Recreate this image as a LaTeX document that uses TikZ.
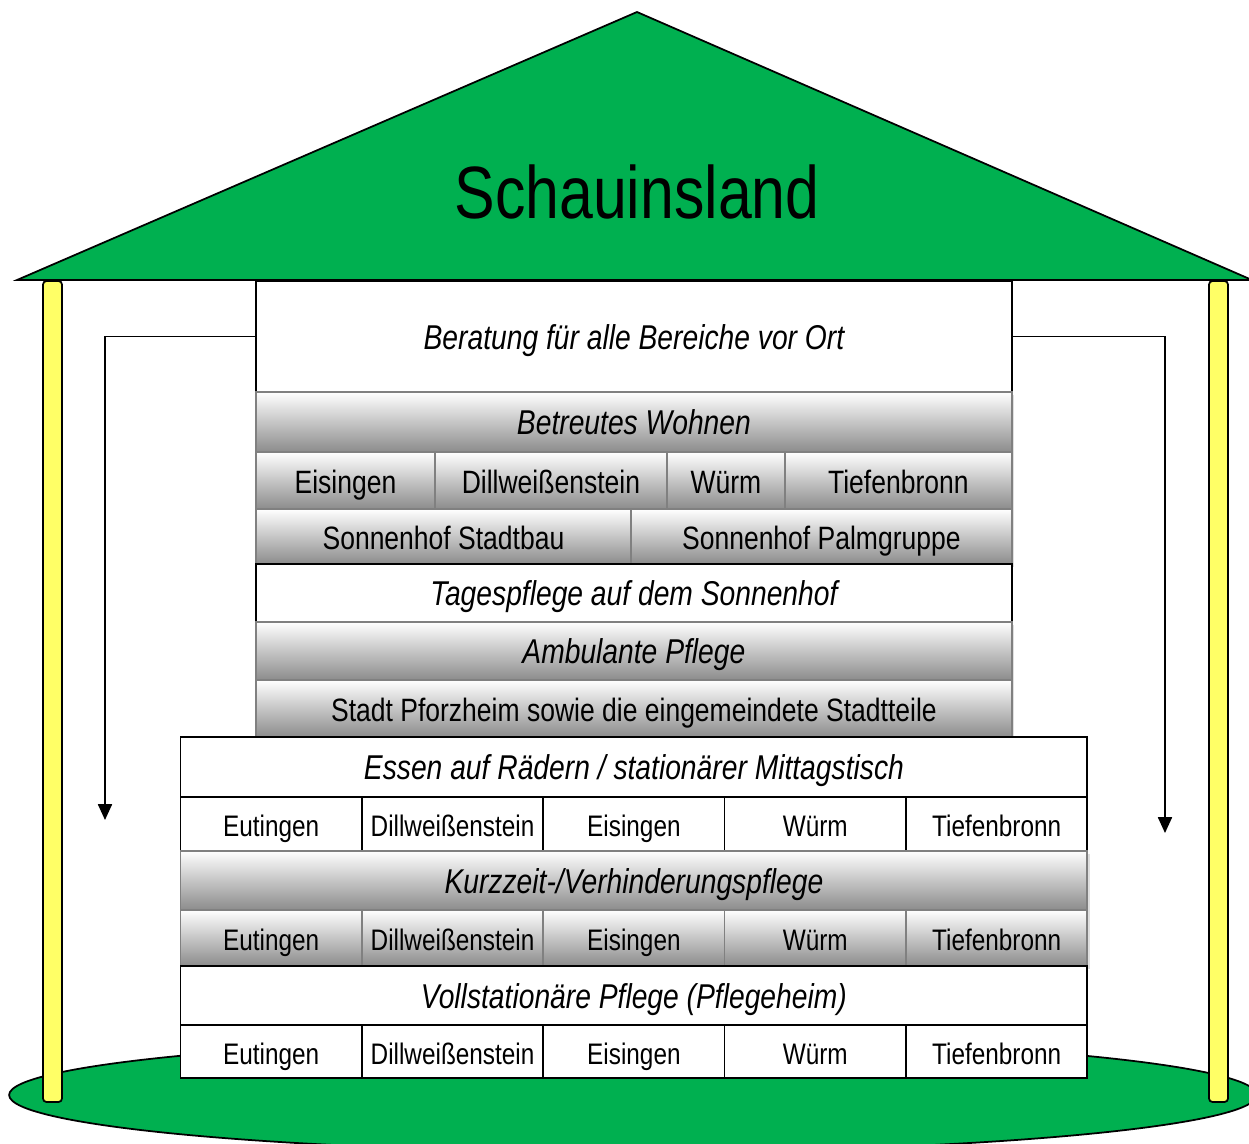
\documentclass[tikz,border=0pt]{standalone}
\usepackage{fontspec}
\setmainfont[FakeStretch=0.82]{Liberation Sans}
\usetikzlibrary{positioning,arrows.meta,shadows}
\definecolor{roofGreen}{RGB}{0,176,80}
\definecolor{pillarYellow}{RGB}{255,255,102}
\definecolor{barGray}{RGB}{140,140,140}

\tikzset{
  box/.style={draw=black, line width=1pt, fill=white, inner sep=0pt, outer sep=0pt,
    font=\fontsize{18.4}{22}\selectfont, text height=16pt, text depth=1.5pt},
  barbox/.style={box, draw=gray, top color=white, bottom color=barGray,
    drop shadow={shadow xshift=1.5pt, shadow yshift=-1.5pt, fill=gray!50}},
  headline/.style={font=\fontsize{19.6}{23}\selectfont\itshape},
  small/.style={font=\fontsize{16.9}{20}\selectfont},
  pillar/.style={draw=black, line width=1pt, fill=pillarYellow, rounded corners=2pt},
  flow/.style={line width=0.9pt, -{Triangle[length=9pt,width=8pt]}},
}

\begin{document}
\begin{tikzpicture}[x=0.02cm, y=-0.02cm]
  \useasboundingbox (0,0) rectangle (1249,1144);

  % ground, pillars and roof
  \draw[line width=1pt, fill=roofGreen] (633,1095) ellipse [x radius=12.48cm, y radius=1.14cm];
  \draw[pillar] (43,281) rectangle (62,1102);
  \draw[pillar] (1209,281) rectangle (1228,1102);
  \draw[line width=1pt, fill=roofGreen] (17,280) -- (637,12) -- (1252,280) -- cycle;
  \node[font=\fontsize{42.2}{50}\selectfont] (roofname) at (637,192) {Schauinsland};

  % upper column
  \node[box, headline, minimum width=15.12cm, minimum height=2.22cm, anchor=north west]
    (beratung) at (256,281) {Beratung für alle Bereiche vor Ort};
  \node[barbox, headline, minimum width=15.12cm, minimum height=1.2cm, below=0pt of beratung]
    (wohnen) {Betreutes Wohnen};
  \node[barbox, minimum width=3.58cm, minimum height=1.14cm, below=0pt of wohnen.south west, anchor=north west]
    (bw1) {Eisingen};
  \node[barbox, minimum width=4.64cm, minimum height=1.14cm, right=0pt of bw1] (bw2) {Dillweißenstein};
  \node[barbox, minimum width=2.36cm, minimum height=1.14cm, right=0pt of bw2] (bw3) {Würm};
  \node[barbox, minimum width=4.54cm, minimum height=1.14cm, right=0pt of bw3] (bw4) {Tiefenbronn};
  \node[barbox, minimum width=7.5cm, minimum height=1.1cm, below=0pt of bw1.south west, anchor=north west]
    (sonnen1) {Sonnenhof Stadtbau};
  \node[barbox, minimum width=7.62cm, minimum height=1.1cm, right=0pt of sonnen1] (sonnen2) {Sonnenhof Palmgruppe};
  \node[box, headline, minimum width=15.12cm, minimum height=1.16cm, below=0pt of sonnen1.south west, anchor=north west]
    (tages) {Tagespflege auf dem Sonnenhof};
  \node[barbox, headline, minimum width=15.12cm, minimum height=1.16cm, below=0pt of tages]
    (ambulant) {Ambulante Pflege};
  \node[barbox, minimum width=15.12cm, minimum height=1.14cm, below=0pt of ambulant]
    (stadt) {Stadt Pforzheim sowie die eingemeindete Stadtteile};

  % lower block
  \node[box, headline, minimum width=18.14cm, minimum height=1.2cm, below=0pt of stadt]
    (essen) {Essen auf Rädern / stationärer Mittagstisch};
  \foreach \ort [count=\i] in {Eutingen,Dillweißenstein,Eisingen,Würm,Tiefenbronn}
    \node[box, small, minimum width=3.628cm, minimum height=1.08cm, anchor=north west, xshift={(\i-1)*3.628cm}]
      (ea\i) at (essen.south west) {\ort};
  \node[barbox, headline, minimum width=18.14cm, minimum height=1.18cm, below=0pt of ea1.south west, anchor=north west]
    (kurz) {Kurzzeit-/Verhinderungspflege};
  \foreach \ort [count=\i] in {Eutingen,Dillweißenstein,Eisingen,Würm,Tiefenbronn}
    \node[barbox, small, minimum width=3.628cm, minimum height=1.12cm, anchor=north west, xshift={(\i-1)*3.628cm}]
      (kz\i) at (kurz.south west) {\ort};
  \node[box, headline, minimum width=18.14cm, minimum height=1.18cm, below=0pt of kz1.south west, anchor=north west]
    (voll) {Vollstationäre Pflege (Pflegeheim)};
  \foreach \ort [count=\i] in {Eutingen,Dillweißenstein,Eisingen,Würm,Tiefenbronn}
    \node[box, small, minimum width=3.628cm, minimum height=1.06cm, anchor=north west, xshift={(\i-1)*3.628cm}]
      (vs\i) at (voll.south west) {\ort};

  % arrows down the sides
  \coordinate (ltip) at (105,820);
  \coordinate (rtip) at (1165,833);
  \draw[flow] (beratung.west) -| (ltip);
  \draw[flow] (beratung.east) -| (rtip);
\end{tikzpicture}
\end{document}
